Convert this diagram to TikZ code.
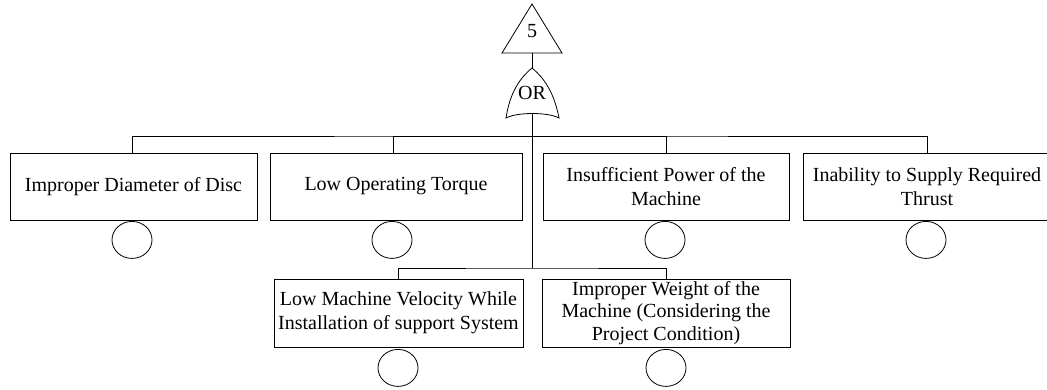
\documentclass[tikz,border=0pt]{standalone}
\usepackage{fontspec}
\setmainfont{Liberation Serif}
\usetikzlibrary{shapes.geometric}
\begin{document}
\begin{tikzpicture}[x=1pt,y=-1pt,
  line width=0.8pt,
  box/.style={draw, inner sep=0pt, align=center, minimum height=67pt, font=\fontsize{20}{24}\selectfont},
  ev/.style={draw, ellipse, minimum width=40pt, minimum height=37pt, inner sep=0pt},
  lbl/.style={inner sep=0pt, font=\fontsize{20}{24}\selectfont}]
\useasboundingbox (0,0) rectangle (1047,389);
% top transfer triangle
\draw (502,53) -- (532,4) -- (562,53) -- cycle;
\node[lbl] (t5) at (532,31) {5};
\coordinate (tribot) at (532,53);
% OR gate
\draw (506,118) .. controls (510,92) and (520,78) .. (532,68)
      .. controls (544,78) and (554,92) .. (559,118)
      .. controls (548,112) and (517,112) .. (506,118) -- cycle;
\coordinate (gtop) at (532,68);
\coordinate (gbot) at (532,114);
\node[lbl] (orl) at (532,93) {OR};
\draw (tribot) -- (gtop);
% row 1 boxes
\node[box, minimum width=247pt] (b1) at (133.5,186.5) {Improper Diameter of Disc};
\node[box, minimum width=252pt] (b2) at (396,186.5) {Low Operating Torque};
\node[box, minimum width=246pt] (b3) at (666,186.5) {Insufficient Power of the\\Machine};
\node[box, minimum width=248pt] (b4) at (927,186.5) {Inability to Supply Required\\Thrust};
% row 2 boxes
\node[box, minimum width=249pt, minimum height=68pt] (b5) at (398.5,313) {Low Machine Velocity While\\Installation of support System};
\node[box, minimum width=248pt, minimum height=68pt, font=\fontsize{20}{22.5}\selectfont] (b6) at (666,313) {Improper Weight of the\\Machine (Considering the\\Project Condition)};
% basic events
\node[ev, anchor=north] (e1) at (132,221) {};
\node[ev, anchor=north] (e2) at (392,221) {};
\node[ev, anchor=north] (e3) at (665,221) {};
\node[ev, anchor=north] (e4) at (926,221) {};
\node[ev, anchor=north] (e5) at (398,349) {};
\node[ev, anchor=north] (e6) at (666,349) {};
% bus lines
\coordinate (bus1) at (532,136);
\coordinate (bus2) at (532,268);
\draw (gbot) -- (bus2);
\draw (b1.north -| 132,0) |- (bus1) -| (b4.north);
\draw (bus1) -| (b2.north -| 393,0);
\draw (bus1) -| (b3.north);
\draw (b5.north -| 398,0) |- (bus2) -| (b6.north);
\end{tikzpicture}
\end{document}
